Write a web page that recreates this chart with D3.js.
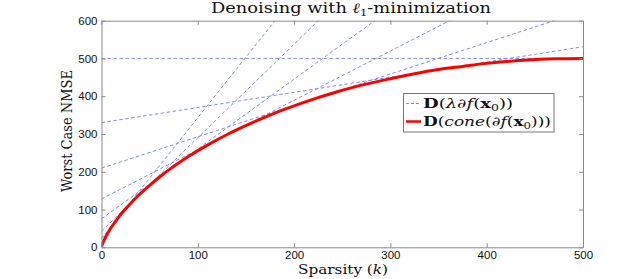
<!DOCTYPE html>
<html><head><meta charset="utf-8">
<script src="https://cdn.jsdelivr.net/npm/d3@7"></script>
<style>body{margin:0;background:#fff}svg{display:block}</style>
</head><body><svg id="c" width="644" height="279"></svg>
<script>
// Red curve: worst-case NMSE D(cone(∂f(x0))) vs sparsity k
const sparsityK = [0,1,2,4,6,9,14,19,28,37,50,60,71,80,91,110,130,155,180,200,221,245,268,300,325,348,375,400,438,470,500];
const coneNMSE  = [0,8.5,14.5,26,35,48.4,66.5,84,110,134,164,185.5,207,223,241.5,270.5,298,328,355.5,374.5,393,411.8,428,446.5,459.5,470,479,487,495,499,500];
// Dashed lines D(λ∂f(x0)) for fixed λ: straight lines from k=0 to k=500
const lambdas     = [0, 0.25, 0.5, 0.75, 1, 1.25, 1.5];
const lambdaStart = [500, 330, 209.6, 128, 75.4, 42.4, 22.9];
const lambdaEnd   = [500, 531, 625, 781, 1000, 1281, 1625];
const xTicks = [0,100,200,300,400,500];
const yTicks = [0,100,200,300,400,500,600];

const svg = d3.select("#c");
const L=101.5, R=583, T=20.7, B=247.3;
const x = d3.scaleLinear().domain([0,500]).range([L,R]);
const y = d3.scaleLinear().domain([0,600]).range([B,T]);
const axisCol="#8a8a8a";

svg.append("clipPath").attr("id","clip").append("rect")
  .attr("x",L).attr("y",T).attr("width",R-L).attr("height",B-T);

const g = svg.append("g").attr("clip-path","url(#clip)");
lambdas.forEach((lam,i)=>{
  g.append("line")
    .attr("x1",x(0)).attr("y1",y(lambdaStart[i]))
    .attr("x2",x(500)).attr("y2",y(lambdaEnd[i]))
    .attr("stroke","#6f80f5").attr("stroke-width",0.9)
    .attr("stroke-dasharray","3.5,2.5");
});
const line = d3.line().x((d,i)=>x(sparsityK[i])).y(d=>y(d)).curve(d3.curveMonotoneX);
g.append("path").datum(coneNMSE).attr("d",line)
  .attr("fill","none").attr("stroke","#ff0000").attr("stroke-width",3);

// axes (box with inward ticks on all sides)
const tl=4;
const axB = d3.axisBottom(x).tickValues(xTicks).tickSizeInner(-tl).tickSizeOuter(0).tickPadding(4);
const axL = d3.axisLeft(y).tickValues(yTicks).tickSizeInner(-tl).tickSizeOuter(0).tickPadding(4);
const axT = d3.axisTop(x).tickValues(xTicks).tickSizeInner(-tl).tickSizeOuter(0).tickFormat("");
const axR = d3.axisRight(y).tickValues(yTicks).tickSizeInner(-tl).tickSizeOuter(0).tickFormat("");
function styleAxis(sel){
  sel.select(".domain").attr("stroke",axisCol);
  sel.selectAll(".tick line").attr("stroke",axisCol);
  sel.selectAll(".tick text").attr("fill","#111").style("font-family","'Liberation Sans',Arial,sans-serif").style("font-size","11.5px");
}
svg.append("g").attr("transform",`translate(0,${B})`).call(axB).call(styleAxis);
svg.append("g").attr("transform",`translate(${L},0)`).call(axL).call(styleAxis);
svg.append("g").attr("transform",`translate(0,${T})`).call(axT).call(styleAxis);
svg.append("g").attr("transform",`translate(${R},0)`).call(axR).call(styleAxis);

const serif="'DejaVu Serif','Liberation Serif',serif";
// title
const t = svg.append("text").attr("x",351).attr("y",12.5).attr("text-anchor","middle")
  .attr("textLength",280).attr("lengthAdjust","spacingAndGlyphs")
  .style("font-family",serif).style("font-size","14px").attr("fill","#111");
t.append("tspan").text("Denoising with ");
t.append("tspan").attr("font-style","italic").text("ℓ");
t.append("tspan").attr("font-size","9px").attr("dy",3).text("1");
t.append("tspan").attr("dy",-3).text("-minimization");

// x label
const xl = svg.append("text").attr("x",343).attr("y",274).attr("text-anchor","middle")
  .attr("textLength",90).attr("lengthAdjust","spacingAndGlyphs")
  .style("font-family",serif).style("font-size","13px").attr("fill","#111");
xl.append("tspan").text("Sparsity (");
xl.append("tspan").attr("font-style","italic").text("k");
xl.append("tspan").text(")");

// y label
svg.append("text").attr("transform",`translate(72,131) rotate(-90)`).attr("text-anchor","middle")
  .attr("textLength",122).attr("lengthAdjust","spacingAndGlyphs")
  .style("font-family",serif).style("font-size","15px").attr("fill","#111").text("Worst Case NMSE");

// legend
const lg = svg.append("g");
lg.append("rect").attr("x",403.5).attr("y",93.5).attr("width",150.5).attr("height",38.5)
  .attr("fill","#fff").attr("stroke","#777").attr("stroke-width",1);
lg.append("line").attr("x1",406).attr("x2",421).attr("y1",103.5).attr("y2",103.5)
  .attr("stroke","#6f80f5").attr("stroke-width",0.9).attr("stroke-dasharray","3,2");
lg.append("line").attr("x1",406).attr("x2",421).attr("y1",121.5).attr("y2",121.5)
  .attr("stroke","#ff0000").attr("stroke-width",2.5);
function legText(yy, len, parts){
  const tx = lg.append("text").attr("x",423).attr("y",yy)
    .attr("textLength",len).attr("lengthAdjust","spacingAndGlyphs")
    .style("font-family",serif).style("font-size","13px").attr("fill","#111");
  parts.forEach(p=>{
    const s = tx.append("tspan").text(p[0]);
    if(p[1]==="b") s.attr("font-weight","bold");
    if(p[1]==="i") s.attr("font-style","italic");
    if(p[1]==="sub") s.attr("font-size","9px").attr("dy",3);
    if(p[1]==="up") s.attr("dy",-3);
  });
}
legText(107.5,90,[["D","b"],["(",""],["λ","i"],["∂",""],["f","i"],["(",""],["x","b"],["0","sub"],["))","up"]]);
legText(125.5,128,[["D","b"],["(",""],["cone","i"],["(∂",""],["f","i"],["(",""],["x","b"],["0","sub"],[")))","up"]]);
</script></body></html>
